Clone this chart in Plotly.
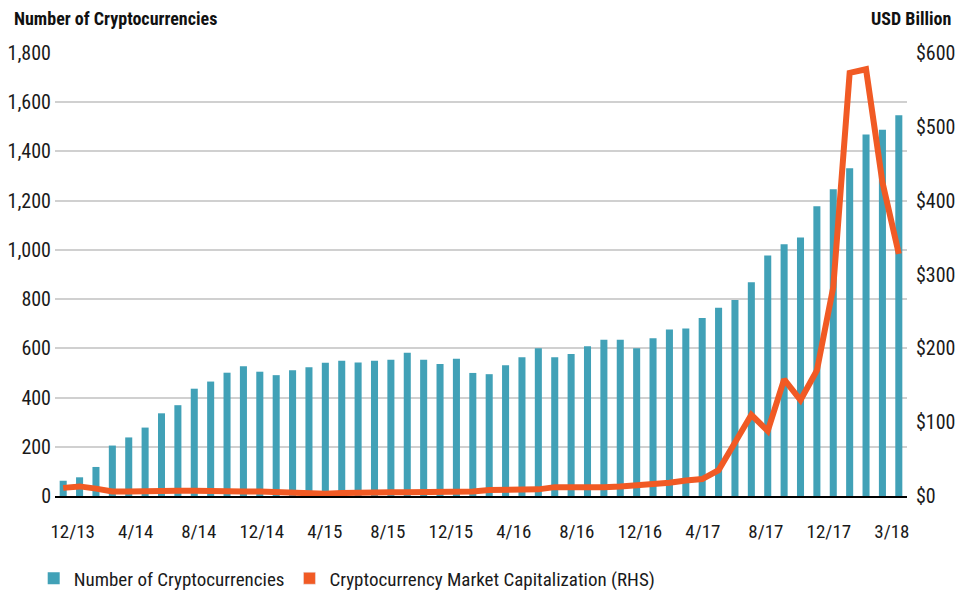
import plotly.graph_objects as go

months = ["12/13",
          "1/14", "2/14", "3/14", "4/14", "5/14", "6/14", "7/14", "8/14", "9/14", "10/14", "11/14", "12/14",
          "1/15", "2/15", "3/15", "4/15", "5/15", "6/15", "7/15", "8/15", "9/15", "10/15", "11/15", "12/15",
          "1/16", "2/16", "3/16", "4/16", "5/16", "6/16", "7/16", "8/16", "9/16", "10/16", "11/16", "12/16",
          "1/17", "2/17", "3/17", "4/17", "5/17", "6/17", "7/17", "8/17", "9/17", "10/17", "11/17", "12/17",
          "1/18", "2/18", "3/18"]

num_cryptos = [62, 76, 118, 205, 238, 278, 336, 369, 436, 465, 501, 527,
               505, 491, 511, 523, 541, 550, 542, 550, 554, 582, 554, 536,
               558, 500, 495, 531, 564, 600, 564, 577, 608, 635, 635, 600,
               641, 677, 681, 723, 765, 796, 869, 977, 1023, 1050, 1177, 1246,
               1332, 1469, 1488, 1547]

market_cap = [11, 13, 10, 6, 6, 7, 7, 7, 7, 6, 5, 6,
              6, 5, 5, 5, 3, 4, 5, 5, 5, 5, 5, 6,
              6, 6, 8, 8, 8, 9, 12, 12, 10, 12, 13, 14,
              17, 18, 21, 23, 35, 71, 110, 88, 158, 130, 170, 283,
              573, 578, 425, 328]

tick_labels = ["12/13", "4/14", "8/14", "12/14", "4/15", "8/15", "12/15",
               "4/16", "8/16", "12/16", "4/17", "8/17", "12/17", "3/18"]

left_ticks = [0, 200, 400, 600, 800, 1000, 1200, 1400, 1600, 1800]
right_ticks = [0, 100, 200, 300, 400, 500, 600]

BAR = "#41A1B7"
LINE = "#F15A24"
FONT = "Roboto, sans-serif"
TXT = "#1a1a1a"


def cond(s):
    return f'<span style="font-stretch:condensed">{s}</span>'


# tick labels are spread evenly along the axis in the original (not exactly on their bars)
tick_pos = [0.58 + 3.846 * i for i in range(len(tick_labels))]

fig = go.Figure()
fig.add_trace(go.Bar(x=months, y=num_cryptos, name=cond("Number of Cryptocurrencies"),
                     marker=dict(color=BAR, line=dict(width=0)), width=0.43))
fig.add_trace(go.Scatter(x=months, y=market_cap, yaxis="y2", mode="lines",
                         line=dict(color=LINE, width=6), showlegend=False,
                         name="Cryptocurrency Market Capitalization (RHS)", cliponaxis=False))
# legend swatch (square) for the line series
fig.add_trace(go.Bar(x=[None], y=[None], yaxis="y2", marker=dict(color=LINE),
                     name=cond("Cryptocurrency Market Capitalization (RHS)")))

fig.update_layout(
    width=971, height=590,
    margin=dict(l=55, r=64, t=53, b=94, autoexpand=False),
    paper_bgcolor="white", plot_bgcolor="white",
    font=dict(family=FONT, size=19, color=TXT),
    xaxis=dict(type="category", tickmode="array", tickvals=tick_pos,
               ticktext=[cond(t) for t in tick_labels],
               showgrid=False, showline=True, linecolor="black", linewidth=2,
               ticks="", tickfont=dict(size=19), range=[-0.5, 51.5],
               ticklabelstandoff=17, automargin=False),
    yaxis=dict(range=[0, 1800], tickvals=left_ticks,
               ticktext=[cond(f"{v:,}") for v in left_ticks],
               showgrid=True, gridcolor="#d0d0d0", gridwidth=1.5, zeroline=False,
               ticks="", tickfont=dict(size=20), ticklabelstandoff=3, automargin=False),
    yaxis2=dict(range=[0, 600], tickvals=right_ticks,
                ticktext=[cond(f"${v}") for v in right_ticks],
                overlaying="y", side="right", showgrid=False, zeroline=False,
                ticks="", tickfont=dict(size=20), ticklabelstandoff=8, automargin=False),
    legend=dict(orientation="h", x=-0.025, y=-0.186, xanchor="left", yanchor="middle",
                font=dict(size=19), traceorder="normal", bgcolor="rgba(0,0,0,0)"),
    annotations=[
        dict(text="<b>" + cond("Number of Cryptocurrencies") + "</b>", xref="paper", yref="paper",
             x=-0.051, y=1.077, xanchor="left", yanchor="middle", showarrow=False,
             font=dict(size=18, color="#111")),
        dict(text="<b>" + cond("USD Billion") + "</b>", xref="paper", yref="paper",
             x=1.054, y=1.077, xanchor="right", yanchor="middle", showarrow=False,
             font=dict(size=18, color="#111")),
    ],
)

fig.write_html("out.html", config={"displayModeBar": False},
               post_script="document.body.style.margin='0px';")
